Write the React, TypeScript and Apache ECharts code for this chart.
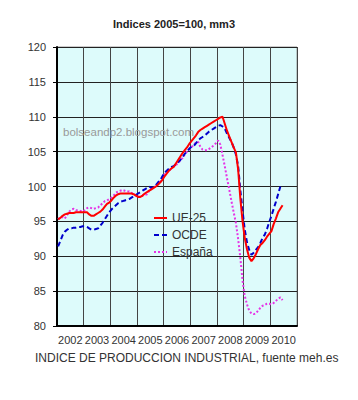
import React, { useEffect, useRef } from "react";
import * as echarts from "echarts";

const years = ["2002", "2003", "2004", "2005", "2006", "2007", "2008", "2009", "2010"];
const yTicks = { min: 80, max: 120, interval: 5 };

// Monthly values, Jan 2002 onward
const ue25 = [
  95.3, 95.5, 95.8, 96.0, 96.1, 96.2, 96.2, 96.2, 96.3, 96.3, 96.3, 96.3,
  96.3, 96.3, 96.0, 95.8, 95.8, 96.0, 96.2, 96.4, 96.7, 97.1, 97.5, 97.7,
  98.0, 98.4, 98.7, 98.9, 99.0, 99.0, 99.0, 99.0, 99.0, 99.0, 98.9, 98.7,
  98.5, 98.5, 98.7, 99.0, 99.2, 99.4, 99.6, 99.8, 100.0, 100.3, 100.6, 101.0,
  101.5, 101.9, 102.3, 102.6, 102.8, 103.3, 103.8, 104.3, 104.8, 105.2, 105.6, 106.1,
  106.5, 106.9, 107.3, 107.8, 108.1, 108.3, 108.5, 108.7, 108.9, 109.1, 109.3, 109.5,
  109.7, 109.9, 110.0, 109.0, 108.0, 107.2, 106.4, 105.6, 104.9, 102.5, 98.3, 95.0,
  92.6, 91.0, 89.8, 89.3, 89.7, 90.3, 91.0, 91.6, 91.9, 92.3, 92.8, 93.2,
  93.6, 94.6, 95.4, 96.3, 96.8, 97.3,
];
const ocde = [
  91.4, 92.2, 93.0, 93.5, 93.8, 94.0, 94.0, 94.1, 94.1, 94.2, 94.2, 94.3,
  94.3, 94.2, 94.0, 93.8, 93.8, 93.9, 94.0, 94.4, 94.8, 95.3, 95.8, 96.3,
  96.7, 97.0, 97.3, 97.6, 97.8, 97.9, 98.0, 98.1, 98.2, 98.4, 98.6, 98.8,
  99.0, 99.2, 99.4, 99.6, 99.8, 100.0, 99.8, 99.9, 100.2, 100.6, 100.9, 101.5,
  102.0, 102.3, 102.6, 102.8, 102.9, 103.2, 103.5, 103.8, 104.2, 104.7, 105.0, 105.4,
  105.7, 105.8, 106.2, 106.6, 106.9, 107.1, 107.3, 107.6, 107.9, 108.1, 108.3, 108.5,
  108.7, 108.8, 108.6, 108.3, 107.6, 107.0, 106.4, 105.6, 104.6, 103.0, 99.5, 96.5,
  93.8, 92.0, 90.9, 90.2, 90.5, 90.9, 91.3, 91.9, 92.6, 93.1, 93.9, 94.9,
  95.8, 96.8, 97.8, 98.9, 100.0,
];
const espana = [
  95.3, 95.6, 95.6, 95.4, 95.9, 96.4, 96.7, 96.8, 96.6, 96.6, 96.5, 96.4,
  96.6, 96.9, 97.0, 96.9, 96.8, 96.9, 97.0, 97.3, 97.6, 97.9, 98.0, 98.2,
  98.4, 98.7, 99.1, 99.3, 99.4, 99.5, 99.4, 99.3, 99.3, 99.1, 98.9, 98.7,
  98.6, 98.5, 98.7, 98.8, 98.9, 99.4, 99.8, 99.8, 100.1, 100.4, 100.7, 101.3,
  101.8, 102.1, 102.3, 102.6, 102.9, 103.1, 103.3, 103.8, 104.1, 104.6, 105.0, 105.3,
  105.6, 106.0, 106.3, 106.4, 105.7, 105.3, 105.2, 105.2, 105.4, 105.6, 105.9, 106.2,
  106.6, 106.0, 104.5, 102.9, 101.2, 99.6, 97.9, 96.3, 94.8, 92.5, 89.8, 86.5,
  84.3, 83.1, 82.2, 81.8, 81.7, 81.8, 82.2, 82.6, 82.9, 83.0, 83.2, 83.2,
  83.1, 83.3, 83.6, 83.9, 84.1, 83.7,
];

const toPairs = (arr: number[]) => arr.map((v, i) => [i + 0.5, v]);

const FONT = "'Liberation Sans', Arial, sans-serif";

export default function App() {
  const ref = useRef<HTMLDivElement>(null);
  useEffect(() => {
    if (!ref.current) return;
    const chart = echarts.init(ref.current, null, { renderer: "svg" });
    chart.setOption({
      animation: false,
      backgroundColor: "#ffffff",
      textStyle: { fontFamily: FONT },
      title: {
        text: "Indices 2005=100, mm3",
        left: 108,
        top: 13,
        textStyle: { fontSize: 11, fontWeight: "bold", color: "#222", fontFamily: FONT },
      },
      grid: {
        left: 57,
        right: 61,
        top: 47,
        bottom: 74,
        show: true,
        backgroundColor: "#DDFBFB",
        borderColor: "#999",
        borderWidth: 1,
      },
      legend: {
        orient: "vertical",
        left: 148,
        top: 207,
        itemWidth: 13,
        itemHeight: 12,
        itemGap: 5,
        itemStyle: { opacity: 0 },
        textStyle: { fontSize: 12, color: "#333", fontFamily: FONT },
        data: ["UE-25", "OCDE", "España"],
      },
      xAxis: [
        {
          type: "value",
          min: 0,
          max: 108,
          interval: 12,
          axisLine: { show: true, onZero: false, lineStyle: { color: "#000", width: 2 } },
          axisTick: { show: false },
          axisLabel: { show: false },
          splitLine: { show: true, lineStyle: { color: "#444", width: 1 } },
        },
        {
          type: "category",
          data: years,
          position: "bottom",
          boundaryGap: true,
          axisLine: { show: false },
          axisTick: { show: false },
          splitLine: { show: false },
          axisLabel: { interval: 0, fontSize: 11, color: "#333", margin: 8, fontFamily: FONT },
        },
      ],
      yAxis: {
        type: "value",
        min: yTicks.min,
        max: yTicks.max,
        interval: yTicks.interval,
        axisLine: { show: true, lineStyle: { color: "#000", width: 2 } },
        axisTick: { show: true, length: 4, lineStyle: { color: "#000" } },
        axisLabel: { fontSize: 11, color: "#333", margin: 11, fontFamily: FONT },
        splitLine: { show: true, lineStyle: { color: "#222", width: 1 } },
      },
      graphic: [
        {
          type: "text",
          left: 63,
          top: 126,
          z: 5,
          style: {
            text: "bolseandp2.blogspot.com",
            fontSize: 11.5,
            fill: "#999",
            fontFamily: FONT,
          },
        },
        {
          type: "text",
          left: 35,
          top: 352,
          style: {
            text: "INDICE DE PRODUCCION INDUSTRIAL, fuente meh.es",
            fontSize: 12,
            fill: "#333",
            fontFamily: FONT,
          },
        },
      ],
      series: [
        {
          name: "UE-25",
          type: "line",
          xAxisIndex: 0,
          data: toPairs(ue25),
          symbol: "none",
          z: 4,
          lineStyle: { color: "#FF0000", width: 2 },
          itemStyle: { color: "#FF0000" },
        },
        {
          name: "OCDE",
          type: "line",
          xAxisIndex: 0,
          data: toPairs(ocde),
          symbol: "none",
          z: 3,
          lineStyle: { color: "#0000CC", width: 2, type: [5, 3] },
          itemStyle: { color: "#0000CC" },
        },
        {
          name: "España",
          type: "line",
          xAxisIndex: 0,
          data: toPairs(espana),
          symbol: "none",
          z: 2,
          lineStyle: { color: "#E633E6", width: 2, type: [2, 2] },
          itemStyle: { color: "#E633E6" },
        },
      ],
    });
    return () => chart.dispose();
  }, []);
  return (
    <div
      ref={ref}
      style={{ position: "fixed", left: 0, top: 0, width: 358, height: 400 }}
    />
  );
}
